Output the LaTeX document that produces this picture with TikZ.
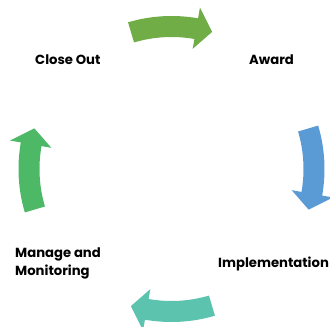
\documentclass[tikz,border=0pt]{standalone}
\usepackage{fontspec}
\setmainfont{Poppins}
\usetikzlibrary{positioning}

\definecolor{awardgreen}{HTML}{70AD47}
\definecolor{implblue}{HTML}{5B9BD5}
\definecolor{monteal}{HTML}{5CC3AF}
\definecolor{closegreen}{HTML}{4DB865}

\begin{document}
\begin{tikzpicture}[
        x=1pt, y=1pt,
        stage/.style={anchor=west, inner sep=0pt, align=left, font=\bfseries\fontsize{13.2}{18}\selectfont},
        cyclearrow/.style={draw=none}
    ]
    \useasboundingbox (0,0) rectangle (330,327);
    
    \coordinate (Center) at (171.5,158);
    
    \node[stage] (CloseOut) at (35,267) {Close Out};
    \node[stage] (Award) at (249,267) {Award};
    \node[stage] (Implement) at (218,63) {Implementation};
    \node[stage] (Manage) at (15,64) {Manage and\\Monitoring};
    
    % curved block arrows round the cycle
    \begin{scope}[shift={(Center)}]
    \foreach \ang/\col in {90/awardgreen, 0/implblue, -90/monteal, 180/closegreen} {
        \fill[cyclearrow, \col]
            (\ang+16.5:132) -- (\ang+16.5:153)
            arc[start angle=\ang+16.5, end angle=\ang-10, radius=153]
            -- (\ang-10:164) -- (\ang-16.5:143) -- (\ang-10:122) -- (\ang-10:132)
            arc[start angle=\ang-10, end angle=\ang+16.5, radius=132]
            -- cycle;
    }
    \end{scope}
    
\end{tikzpicture}
\end{document}
